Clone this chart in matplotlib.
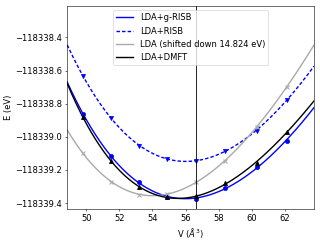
import numpy as np
import matplotlib
matplotlib.use("Agg")
import matplotlib.pyplot as plt

# Data
V = [49.8, 51.5, 53.2, 54.9, 56.6, 58.4, 60.3, 62.1]
E_grisb = [-118338.862, -118339.115, -118339.273, -118339.366, -118339.376, -118339.310, -118339.180, -118339.023]
E_risb = [-118338.633, -118338.884, -118339.055, -118339.135, -118339.143, -118339.083, -118338.963, -118338.778]
E_lda = [-118339.099, -118339.270, -118339.350, -118339.344, -118339.273, -118339.143, -118338.942, -118338.698]
E_dmft = [-118338.882, -118339.145, -118339.304, -118339.366, -118339.360, -118339.280, -118339.155, -118338.972]
E_dmft_err = [0.012, 0.012, 0.012, 0.012, 0.012, 0.012, 0.012, 0.012]
V_eq = 56.6
xlim = (48.85, 63.75)
ylim = (-118339.436, -118338.21)

plt.rcParams['font.size'] = 12
fig = plt.figure(figsize=(6.4, 4.8), dpi=50)
ax = fig.add_axes([0.21, 0.129, 0.771, 0.846])

xs = np.linspace(xlim[0], xlim[1], 300)

def fit(y):
    # Birch-Murnaghan-like fit: cubic polynomial in V^(-2/3)
    v = np.asarray(V, dtype=float) ** (-2.0 / 3.0)
    y0 = np.mean(y)
    c = np.polyfit(v, np.asarray(y) - y0, 3)
    return np.polyval(c, xs ** (-2.0 / 3.0)) + y0

lw = 2.0
l1, = ax.plot(xs, fit(E_grisb), color='blue', lw=lw, label='LDA+g-RISB')
l2, = ax.plot(xs, fit(E_risb), color='blue', lw=lw, ls=(0, (2.5, 1.5)), label='LDA+RISB')
l3, = ax.plot(xs, fit(E_lda), color='darkgrey', lw=lw, label='LDA (shifted down 14.824 eV)')
l4, = ax.plot(xs, fit(E_dmft), color='black', lw=lw, label='LDA+DMFT')

ax.plot(V, E_grisb, 'o', color='blue', ms=6)
ax.plot(V, E_risb, 'v', color='blue', ms=6)
ax.plot(V, E_lda, 'x', color='darkgrey', ms=6, mew=1.5)
ax.errorbar(V, E_dmft, yerr=E_dmft_err, fmt='^', color='black', ms=6, elinewidth=2)

ax.axvline(V_eq, color='black', lw=1.2)

ax.set_xlim(*xlim)
ax.set_ylim(*ylim)
ax.set_xticks([50, 52, 54, 56, 58, 60, 62])
ax.set_yticks([-118339.4, -118339.2, -118339.0, -118338.8, -118338.6, -118338.4])
ax.set_yticklabels(['\u2212118339.4', '\u2212118339.2', '\u2212118339.0',
                    '\u2212118338.8', '\u2212118338.6', '\u2212118338.4'])
ax.set_xlabel(r'V ($\AA^3$)')
ax.set_ylabel('E (eV)')
ax.legend(handles=[l1, l2, l3, l4], loc='upper left', bbox_to_anchor=(0.186, 0.98), borderaxespad=0)

fig.savefig('out.png', dpi=50)
